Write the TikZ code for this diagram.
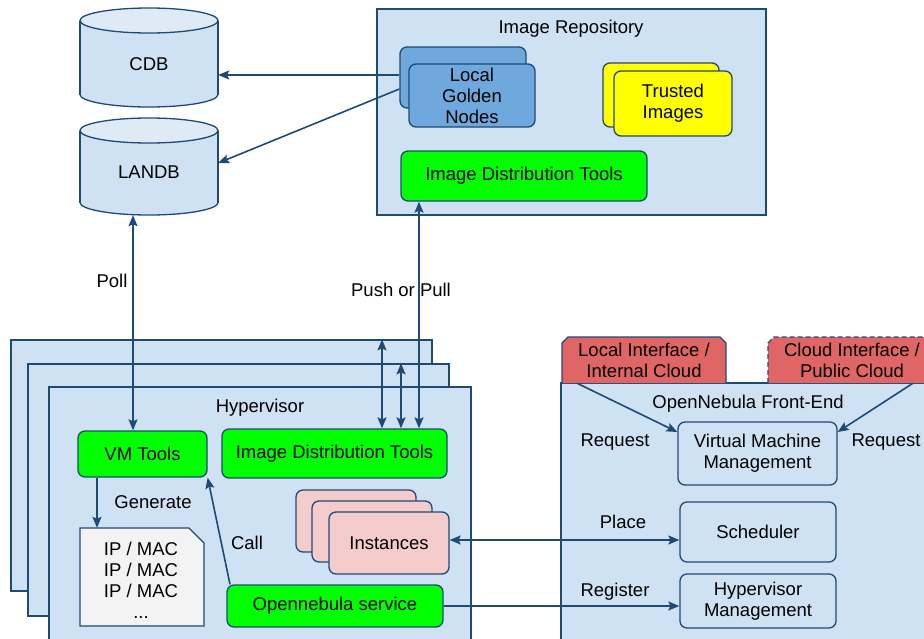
\documentclass[tikz,border=0pt]{standalone}
\usepackage{fontspec}
\setmainfont{Liberation Sans}
\usetikzlibrary{arrows.meta}
\definecolor{bfill}{HTML}{CFE2F3}
\definecolor{btop}{HTML}{DEEBF7}
\definecolor{bline}{HTML}{1F4A76}
\definecolor{gold}{HTML}{6FA8DC}
\definecolor{grn}{HTML}{00FF00}
\definecolor{yel}{HTML}{FFFF00}
\definecolor{pnk}{HTML}{F4CCCC}
\definecolor{redtab}{HTML}{E06666}
\definecolor{filec}{HTML}{F3F3F3}
\begin{document}
\begin{tikzpicture}[x=1pt,y=-1pt,
  font=\fontsize{18.5}{21}\selectfont,
  box/.style={draw=bline, line width=1.3pt, rounded corners=7pt, align=center, inner sep=0pt},
  frame/.style={draw=bline, line width=1.3pt, fill=bfill, inner sep=0pt},
  plain/.style={inner sep=0pt, align=center},
  conn/.style={draw=bline, line width=1.6pt, -{Stealth[length=11pt,width=9pt,inset=2pt]}},
  dconn/.style={draw=bline, line width=1.6pt, {Stealth[length=11pt,width=9pt,inset=2pt]}-{Stealth[length=11pt,width=9pt,inset=2pt]}}
]
\useasboundingbox (0,0) rectangle (924,638);

% ---- cylinders ----
\draw[draw=bline, line width=1.3pt, fill=bfill] (149,94.5) ellipse [x radius=69, y radius=12.5];
\fill[bfill] (80,20.5) rectangle (218,94.5);
\draw[bline, line width=1.3pt] (80,20.5) -- (80,94.5) (218,20.5) -- (218,94.5);
\draw[draw=bline, line width=1.3pt, fill=btop] (149,20.5) ellipse [x radius=69, y radius=12.5];
\node[plain, minimum width=138, minimum height=86] (cdb) at (149,64) {CDB};

\draw[draw=bline, line width=1.3pt, fill=bfill] (149,202.5) ellipse [x radius=69, y radius=12.5];
\fill[bfill] (80,130.5) rectangle (218,202.5);
\draw[bline, line width=1.3pt] (80,130.5) -- (80,202.5) (218,130.5) -- (218,202.5);
\draw[draw=bline, line width=1.3pt, fill=btop] (149,130.5) ellipse [x radius=69, y radius=12.5];
\node[plain, minimum width=138, minimum height=86] (landb) at (149,172) {LANDB};

% ---- image repository ----
\node[frame, minimum width=389, minimum height=206] (repo) at (571.5,112) {};
\node[plain] (repot) at (571,29) {Image Repository};
\node[box, fill=gold, minimum width=126, minimum height=61] (g1) at (463,77.5) {};
\node[box, fill=gold, minimum width=126, minimum height=63] (g2) at (472,95.5) {Local\\Golden\\Nodes};
\node[box, fill=yel, minimum width=116, minimum height=64] (t1) at (661,95) {};
\node[box, fill=yel, minimum width=118, minimum height=65] (t2) at (673,103.5) {Trusted\\Images};
\node[box, fill=grn, minimum width=246, minimum height=50] (ridt) at (524,176) {Image Distribution Tools};

% ---- hypervisor frames ----
\node[frame, minimum width=421, minimum height=251] (hv1) at (221.5,465.5) {};
\node[frame, minimum width=421, minimum height=252] (hv2) at (238.5,490) {};
\node[frame, minimum width=422, minimum height=258] (hv3) at (260,516) {};
\node[plain] (hvt) at (260,408) {Hypervisor};
\node[box, fill=grn, minimum width=129, minimum height=46] (vmt) at (142.5,454) {VM Tools};
\node[box, fill=grn, minimum width=225, minimum height=49] (hidt) at (334.5,453.5) {Image Distribution Tools};
\draw[draw=bline, line width=1.3pt, fill=filec] (80,528) -- (189,528) -- (204,543) -- (204,626) -- (80,626) -- cycle;
\node[plain, minimum width=124, minimum height=98] (file) at (142,577) {};
\node[plain] (filetxt) at (141,580) {IP / MAC\\IP / MAC\\IP / MAC\\...};
\node[box, fill=pnk, minimum width=120, minimum height=62] (i1) at (356,521) {};
\node[box, fill=pnk, minimum width=120, minimum height=61] (i2) at (372,531.5) {};
\node[box, fill=pnk, minimum width=120, minimum height=62] (i3) at (389,543) {Instances};
\node[box, fill=grn, minimum width=216, minimum height=42] (svc) at (335,606) {Opennebula service};

% ---- front-end ----
\node[frame, minimum width=380, minimum height=270] (fe) at (751,518) {};
\draw[draw=bline, line width=1.3pt, fill=redtab] (562,383) -- (562,343) -- (568,337) -- (720,337) -- (726,343) -- (726,383);
\node[plain, minimum width=164, minimum height=46] (ltab) at (644,360) {Local Interface /\\Internal Cloud};
\draw[draw=bline, line width=1.3pt, fill=redtab, dash pattern=on 5pt off 3pt] (768,383) -- (768,343) -- (774,337) -- (940,337) -- (940,383);
\node[plain, minimum width=168, minimum height=46] (ctab) at (852,360) {Cloud Interface /\\Public Cloud};
\node[plain] (fet) at (748,404) {OpenNebula Front-End};
\node[box, fill=bfill, minimum width=159, minimum height=63] (vmm) at (757.5,453.5) {Virtual Machine\\Management};
\node[box, fill=bfill, minimum width=156, minimum height=60] (sched) at (758,532) {Scheduler};
\node[box, fill=bfill, minimum width=156, minimum height=54] (hm) at (758,601) {Hypervisor\\Management};

% ---- connectors ----
\draw[conn] (g1.west |- 0,75) -- (cdb.east |- 0,75);
\draw[conn] (g1.west |- 0,89) -- (landb.east |- 0,163);
\draw[dconn] (landb.south -| 133,0) -- (vmt.north -| 133,0);
\draw[dconn] (hidt.north -| 419,0) -- (ridt.south -| 419,0);
\draw[dconn] (hv1.north -| 382,0) -- (hidt.north -| 382,0);
\draw[dconn] (hv2.north -| 401,0) -- (hidt.north -| 401,0);
\draw[conn] (vmt.south -| 97,0) -- (file.north -| 97,0);
\draw[conn] (svc.north -| 230,0) -- (vmt.south east);
\draw[dconn] (i3.east |- 0,540) -- (sched.west |- 0,540);
\draw[conn] (svc.east) -- (hm.west |- svc.east);
\draw[conn] (ltab.south -| 577,0) -- (vmm.west |- 0,432);
\draw[conn] (ctab.south -| 913,0) -- (vmm.east |- 0,432);

% ---- labels ----
\node[plain] (lpoll) at (112,281) {Poll};
\node[plain] (lpush) at (401,290) {Push or Pull};
\node[plain] (lgen) at (153,502) {Generate};
\node[plain] (lcall) at (247,543) {Call};
\node[plain] (lreq1) at (615,442) {Request};
\node[plain] (lreq2) at (886,442) {Request};
\node[plain] (lplace) at (623,522) {Place};
\node[plain] (lreg) at (615,592) {Register};
\end{tikzpicture}
\end{document}
